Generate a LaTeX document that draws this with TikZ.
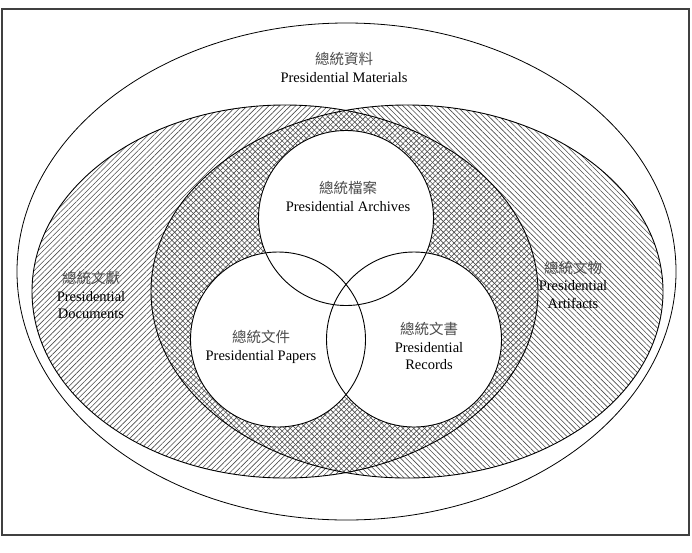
\documentclass[tikz,border=0pt]{standalone}
\usepackage{fontspec}
\setmainfont{Liberation Serif}
\newfontfamily\cjk{Noto Sans CJK TC}
\usetikzlibrary{patterns.meta}

\begin{document}
\begin{tikzpicture}[
      x=1pt, y=-1pt,
      font=\fontsize{14.5}{17.5}\selectfont,
      every node/.style={align=center, inner sep=0pt},
      docfill/.style={pattern={Lines[angle=45,distance=3.8pt,line width=0.6pt]}, pattern color=black!70},
      artfill/.style={pattern={Lines[angle=-45,distance=3.8pt,line width=0.6pt]}, pattern color=black!70},
      ring/.style={draw=black, line width=0.9pt},
    ]
    \useasboundingbox (0,0) rectangle (692,552);

    % ── FRAME & OUTER SET ───────────────────────────────────────
    \draw[black!75, line width=1.4pt] (2,9) rectangle (689,535);
    \coordinate (matc) at (346.5,271.5);
    \draw[ring, line width=0.8pt] (matc) ellipse [x radius=329.5, y radius=248.5];

    % ── DOCUMENTS / ARTIFACTS ───────────────────────────────────
    \coordinate (docc) at (285,291.5);
    \coordinate (artc) at (407,291.5);
    \fill[docfill] (docc) ellipse [x radius=253, y radius=186.5];
    \fill[artfill] (artc) ellipse [x radius=256, y radius=186.5];
    \draw[ring] (docc) ellipse [x radius=253, y radius=186.5];
    \draw[ring] (artc) ellipse [x radius=256, y radius=186.5];

    % ── ARCHIVES / PAPERS / RECORDS ─────────────────────────────
    \coordinate (archc) at (346,218);
    \coordinate (papc) at (278,339.5);
    \coordinate (recc) at (414,339.5);
    \foreach \c in {archc,papc,recc}
      \fill[white] (\c) circle [radius=87.5];
    \foreach \c in {archc,papc,recc}
      \draw[ring] (\c) circle [radius=87.5];

    % ── LABELS ──────────────────────────────────────────────────
    \node (mat) at (344,67.5) {{\cjk\color{black!70}總統資料}\\Presidential Materials};
    \node (arch) at (348,196.5) {{\cjk\color{black!70}總統檔案}\\Presidential Archives};
    \node (doc) at (91,295) {{\cjk\color{black!70}總統文獻}\\Presidential\\Documents};
    \node (art) at (573,284.5) {{\cjk\color{black!70}總統文物}\\Presidential\\Artifacts};
    \node (pap) at (261,347) {{\cjk\color{black!70}總統文件}\\Presidential Papers};
    \node (rec) at (429,346) {{\cjk\color{black!70}總統文書}\\Presidential\\Records};

    \end{tikzpicture}
\end{document}
